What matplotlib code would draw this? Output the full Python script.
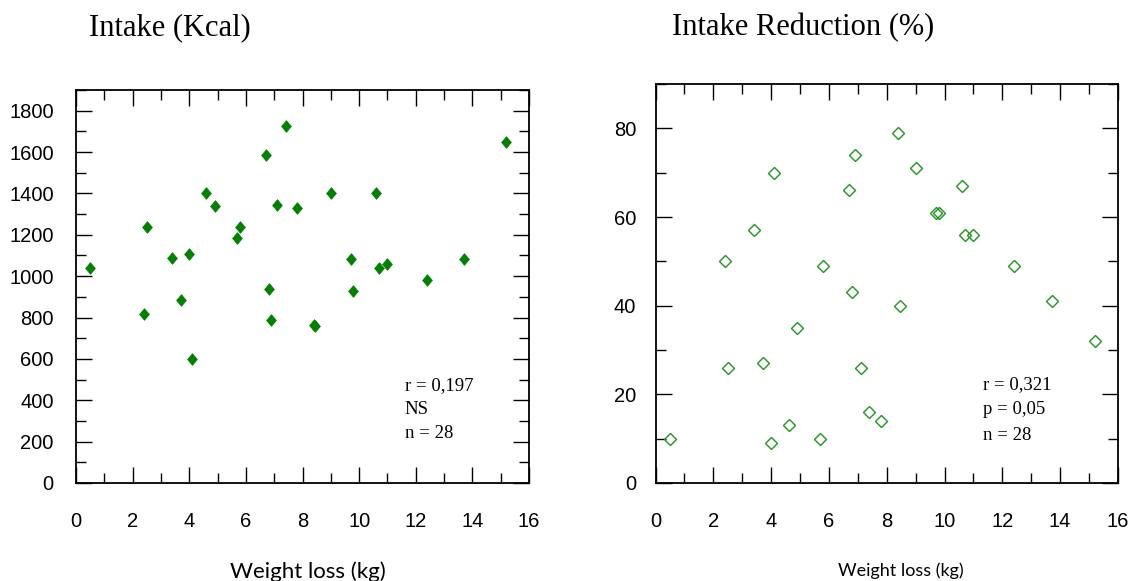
import numpy as np
import matplotlib.pyplot as plt
from matplotlib.ticker import MultipleLocator

# weight loss (kg) of the 28 subjects, shared by both panels
weight_loss = [0.5, 2.4, 2.5, 3.4, 3.7, 4.0, 4.1, 4.6, 4.9, 5.7, 5.8, 6.7, 6.8, 6.9,
               7.1, 7.4, 7.8, 8.4, 8.45, 9.0, 9.7, 9.8, 10.6, 10.7, 11.0, 12.4, 13.7, 15.2]
# energy intake (kcal)
intake_kcal = [1040, 815, 1237, 1088, 887, 1107, 598, 1400, 1337, 1184, 1240, 1586, 940, 786,
               1343, 1726, 1329, 762, 758, 1400, 1085, 926, 1400, 1041, 1060, 980, 1083, 1649]
# intake reduction (%)
intake_red = [10, 50, 26, 57, 27, 9, 70, 13, 35, 10, 49, 66, 43, 74,
              26, 16, 14, 79, 40, 71, 61, 61, 67, 56, 56, 49, 41, 32]

titles = ['Intake (Kcal)', 'Intake Reduction (%)']
stats_left = ['r = 0,197', 'NS', 'n = 28']
stats_right = ['r = 0,321', 'p = 0,05', 'n = 28']
xlab = 'Weight loss (kg)'

tickfont = 'Liberation Sans'
serif = 'Liberation Serif'

fig = plt.figure(figsize=(11.35, 5.81), dpi=100)
ax1 = fig.add_axes([0.0670, 0.1687, 0.3991, 0.6764])
ax2 = fig.add_axes([0.5776, 0.1687, 0.4074, 0.6867])


def style(ax, ytop, ymaj, ymin, ypad):
    ax.set_xlim(0, 16)
    ax.set_ylim(0, ytop)
    ax.xaxis.set_major_locator(MultipleLocator(2))
    ax.xaxis.set_minor_locator(MultipleLocator(1))
    ax.yaxis.set_major_locator(MultipleLocator(ymaj))
    ax.yaxis.set_minor_locator(MultipleLocator(ymin))
    ax.tick_params(which='both', direction='in', top=True, right=True, width=1.0, color='black')
    ax.tick_params(which='major', length=11.5)
    ax.tick_params(which='minor', length=7.5)
    ax.tick_params(axis='x', pad=21, labelsize=14.5)
    ax.tick_params(axis='y', pad=ypad, labelsize=14.5)
    for lab in ax.get_xticklabels() + ax.get_yticklabels():
        lab.set_family(tickfont)
    for s in ax.spines.values():
        s.set_linewidth(1.3)


# left panel: filled diamonds
diamond = [(-0.42, 0), (0, 0.5), (0.42, 0), (0, -0.5), (-0.42, 0)]
ax1.plot(weight_loss, intake_kcal, ls='none', marker=diamond, ms=8.4,
         mfc='#007f00', mec='#007f00', mew=0.5)
style(ax1, 1900, 200, 100, 16)

# right panel: open diamonds
ax2.plot(weight_loss, intake_red, ls='none', marker='D', ms=6.0,
         mfc='none', mec='#1f951f', mew=1.0)
style(ax2, 90, 20, 10, 14)

for ax, lines, x0, ys, fs, lx in [(ax1, stats_left, 0.726, [0.249, 0.188, 0.125], 16, 0.512),
                                  (ax2, stats_right, 0.708, [0.2456, 0.183, 0.120], 13, 0.531)]:
    for t, yy in zip(lines, ys):
        ax.text(x0, yy, t, transform=ax.transAxes, family=serif, fontsize=13.5,
                va='center', ha='left')
    ax.set_xlabel(xlab, family='Lato', fontsize=fs)
    ax.xaxis.set_label_coords(lx, -0.2)
    ax.xaxis.label.set_va('top')

fig.text(0.0784, 1 - 28 / 581, titles[0], family=serif, fontsize=22, va='center', ha='left')
fig.text(0.592, 1 - 28 / 581, titles[1], family=serif, fontsize=22, va='center', ha='left')

fig.savefig('out.png', dpi=100)
